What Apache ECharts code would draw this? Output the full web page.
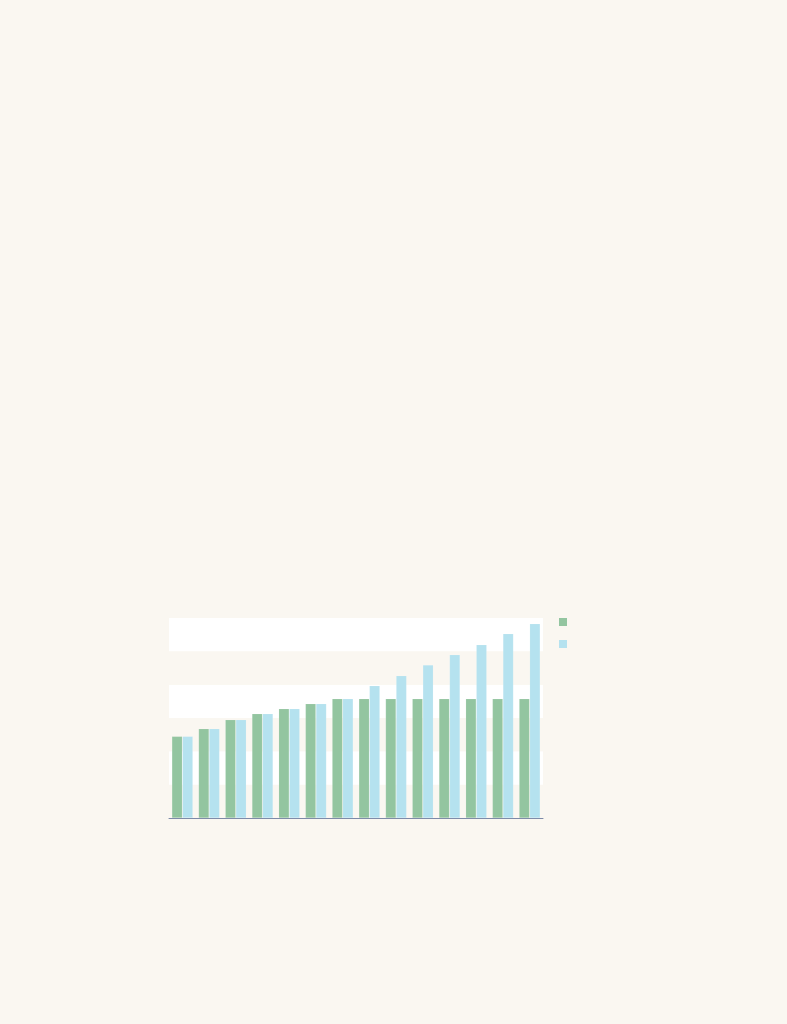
<!DOCTYPE html>
<html>
<head>
<meta charset="utf-8">
<script src="https://cdn.jsdelivr.net/npm/echarts@6/dist/echarts.min.js"></script>
<style>
html,body{margin:0;padding:0;background:#faf7f1;}
#c{width:787px;height:1024px;}
</style>
</head>
<body>
<div id="c"></div>
<script>
var categories = ['1','2','3','4','5','6','7','8','9','10','11','12','13','14'];
var seriesA = [24.5, 26.8, 29.5, 31.3, 32.8, 34.3, 35.8, 35.8, 35.8, 35.8, 35.8, 35.8, 35.8, 35.8];
var seriesB = [24.5, 26.8, 29.5, 31.3, 32.8, 34.3, 35.8, 39.7, 42.7, 45.9, 49.0, 52.0, 55.3, 58.3];
var seriesNames = ['A', 'B'];

var chart = echarts.init(document.getElementById('c'));
chart.setOption({
  backgroundColor: '#faf7f1',
  animation: false,
  legend: {
    show: true,
    orient: 'vertical',
    left: 554,
    top: 613,
    padding: 5,
    itemWidth: 8,
    itemHeight: 8,
    itemGap: 14,
    icon: 'rect',
    itemStyle: { borderWidth: 0 },
    formatter: function(){ return ''; },
    textStyle: { fontSize: 1, color: 'rgba(0,0,0,0)' },
    data: seriesNames
  },
  grid: { left: 169, right: 244, top: 618, bottom: 206 },
  xAxis: {
    type: 'category',
    data: categories,
    axisLine: { lineStyle: { color: '#7d8aa8', width: 1 } },
    axisTick: { show: false },
    axisLabel: { show: false },
    splitLine: { show: false }
  },
  yAxis: {
    type: 'value',
    min: 0,
    max: 60,
    interval: 10,
    axisLine: { show: false },
    axisTick: { show: false },
    axisLabel: { show: false },
    splitLine: { show: false },
    splitArea: { show: true, areaStyle: { color: ['rgba(250,247,241,1)', '#ffffff'] } }
  },
  series: [
    {
      name: seriesNames[0],
      type: 'bar',
      data: seriesA,
      barGap: '0%',
      barCategoryGap: '21%',
      itemStyle: { color: '#93c5a0', borderColor: 'rgba(255,255,255,0.2)', borderWidth: 0.6 }
    },
    {
      name: seriesNames[1],
      type: 'bar',
      data: seriesB,
      barGap: '0%',
      barCategoryGap: '21%',
      itemStyle: { color: '#b5e2ef', borderColor: 'rgba(255,255,255,0.2)', borderWidth: 0.6 }
    }
  ]
});
</script>
</body>
</html>
